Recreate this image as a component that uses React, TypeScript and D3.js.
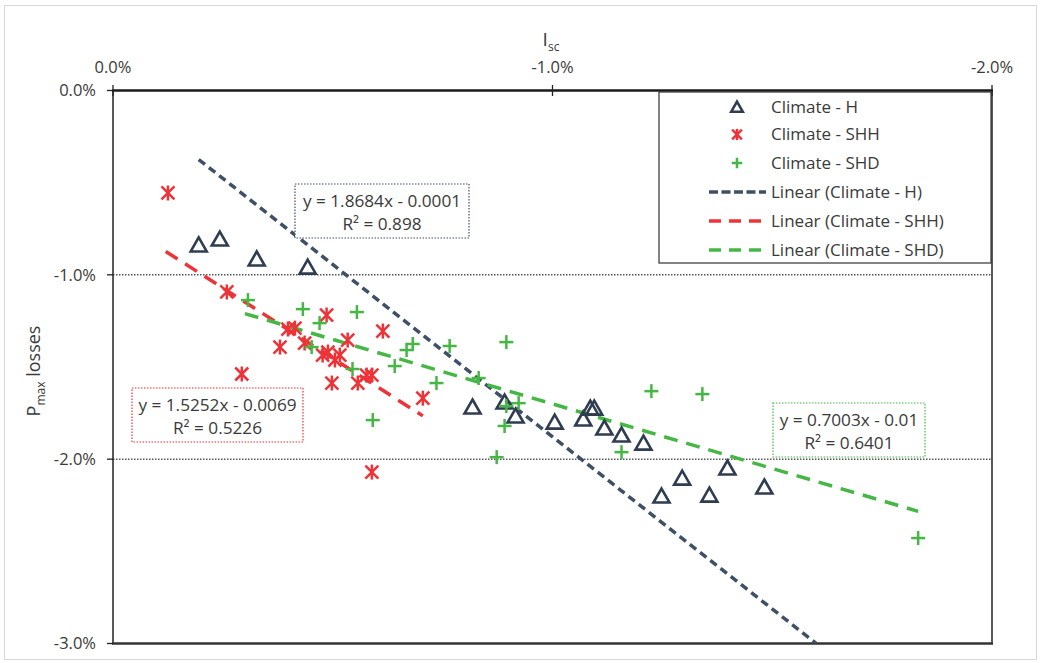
import React from "react";
import * as d3 from "d3";

// Data in percent units
const H_X = [-0.195, -0.243, -0.327, -0.443, -0.818, -0.891, -0.916, -1.005, -1.070, -1.086, -1.095, -1.118, -1.157, -1.207, -1.248, -1.295, -1.357, -1.398, -1.482];
const H_Y = [-0.838, -0.806, -0.914, -0.958, -1.717, -1.690, -1.766, -1.799, -1.782, -1.723, -1.723, -1.831, -1.869, -1.913, -2.200, -2.103, -2.195, -2.048, -2.151];

const SHH_X = [-0.125, -0.259, -0.293, -0.380, -0.398, -0.414, -0.436, -0.486, -0.477, -0.489, -0.505, -0.516, -0.534, -0.498, -0.557, -0.577, -0.589, -0.614, -0.705, -0.589];
const SHH_Y = [-0.556, -1.093, -1.538, -1.392, -1.294, -1.289, -1.370, -1.218, -1.435, -1.419, -1.462, -1.435, -1.354, -1.587, -1.587, -1.544, -1.544, -1.305, -1.669, -2.070];

const SHD_X = [-0.307, -0.432, -0.470, -0.555, -0.452, -0.545, -0.641, -0.668, -0.682, -0.766, -0.736, -0.591, -0.832, -0.895, -0.895, -0.923, -0.891, -0.873, -1.157, -1.225, -1.341, -1.832];
const SHD_Y = [-1.137, -1.186, -1.262, -1.202, -1.392, -1.511, -1.495, -1.408, -1.375, -1.386, -1.587, -1.788, -1.560, -1.365, -1.712, -1.696, -1.820, -1.989, -1.962, -1.631, -1.647, -2.428];

// Trend lines: slope, intercept (fraction units), x extent (percent)
const TRENDS = [
  { key: "H", slope: 1.8684, intercept: -0.0001, from: -0.195, to: -1.6, eq: "y = 1.8684x - 0.0001", r2: "R² = 0.898" },
  { key: "SHH", slope: 1.5252, intercept: -0.0069, from: -0.12, to: -0.705, eq: "y = 1.5252x - 0.0069", r2: "R² = 0.5226" },
  { key: "SHD", slope: 0.7003, intercept: -0.01, from: -0.3, to: -1.832, eq: "y = 0.7003x - 0.01", r2: "R² = 0.6401" },
];

const X_TICKS = [0, -1, -2];
const Y_TICKS = [0, -1, -2, -3];
const LEGEND = ["Climate - H", "Climate - SHH", "Climate - SHD", "Linear (Climate - H)", "Linear (Climate - SHH)", "Linear (Climate - SHD)"];

const C_H = "#2F3D50";
const C_HL = "#3F5066";
const C_R = "#EE3338";
const C_G = "#45B745";
const FONT = "'Open Sans', sans-serif";
const TXT = "#3a3a3a";

const x = d3.scaleLinear().domain([0, -2]).range([113, 992]);
const y = d3.scaleLinear().domain([0, -3]).range([90.5, 643.5]);

function Tri({ cx, cy, s = 1 }: { cx: number; cy: number; s?: number }) {
  return (
    <path
      d={`M${cx},${cy - 7.5 * s} L${cx + 8 * s},${cy + 6.5 * s} L${cx - 8 * s},${cy + 6.5 * s} Z`}
      fill="none"
      stroke={C_H}
      strokeWidth={2.6}
      strokeLinejoin="miter"
    />
  );
}
function Star({ cx, cy, s = 1 }: { cx: number; cy: number; s?: number }) {
  const a = 6.5 * s, b = 7.5 * s;
  return (
    <g stroke={C_R} strokeWidth={2.5}>
      <line x1={cx - a} y1={cy - a} x2={cx + a} y2={cy + a} />
      <line x1={cx - a} y1={cy + a} x2={cx + a} y2={cy - a} />
      <line x1={cx} y1={cy - b} x2={cx} y2={cy + b} />
    </g>
  );
}
function Plus({ cx, cy, s = 1 }: { cx: number; cy: number; s?: number }) {
  const a = 7 * s;
  return (
    <g stroke={C_G} strokeWidth={2.5}>
      <line x1={cx - a} y1={cy} x2={cx + a} y2={cy} />
      <line x1={cx} y1={cy - a} x2={cx} y2={cy + a} />
    </g>
  );
}

export default function App() {
  const trendColor: Record<string, string> = { H: C_HL, SHH: C_R, SHD: C_G };
  const trendDash: Record<string, string> = { H: "8 5", SHH: "14 9", SHD: "14 9" };
  const boxes = [
    { key: "H", x0: 295, y0: 184, x1: 469, y1: 238, color: "#3F5066" },
    { key: "SHH", x0: 132, y0: 388, x1: 303, y1: 442, color: C_R },
    { key: "SHD", x0: 773, y0: 403, x1: 925, y1: 457, color: C_G },
  ];
  const legendY = [107, 134.5, 163, 192, 221, 250];

  return (
    <svg width={1040} height={663} style={{ position: "absolute", left: 0, top: 0 }} fontFamily={FONT}>
      <rect x={0} y={0} width={1040} height={663} fill="#fff" />
      <rect x={4.5} y={5.5} width={1032} height={654} fill="#fff" stroke="#D9D9D9" strokeWidth={1} />

      <defs>
        <clipPath id="plotclip">
          <rect x={113} y={90.5} width={879} height={553} />
        </clipPath>
      </defs>

      {/* gridlines */}
      {[-1, -2].map((t) => (
        <line key={t} x1={113} x2={992} y1={y(t)} y2={y(t)} stroke="#000" strokeWidth={1} strokeDasharray="1.5 1.5" />
      ))}

      {/* plot frame */}
      <line x1={113} x2={113} y1={90.5} y2={643.5} stroke="#222" strokeWidth={1.5} />
      <line x1={992} x2={992} y1={90.5} y2={643.5} stroke="#222" strokeWidth={1.5} />
      <line x1={112} x2={993} y1={643.5} y2={643.5} stroke="#333" strokeWidth={2.5} />
      <line x1={112} x2={993} y1={90.5} y2={90.5} stroke="#1a1a1a" strokeWidth={2.5} />

      {/* ticks */}
      {Y_TICKS.map((t) => (
        <g key={t}>
          <line x1={107} x2={113} y1={y(t)} y2={y(t)} stroke="#222" strokeWidth={1.3} />
          <text x={96} y={y(t)} dy="0.35em" textAnchor="end" fontSize={16.5} fill={TXT}>
            {t.toFixed(1) + "%"}
          </text>
        </g>
      ))}
      {X_TICKS.map((t) => (
        <g key={t}>
          <line x1={x(t)} x2={x(t)} y1={85} y2={96} stroke="#222" strokeWidth={1.3} />
          <text x={x(t)} y={73} textAnchor="middle" fontSize={16.5} fill={TXT}>
            {t.toFixed(1) + "%"}
          </text>
        </g>
      ))}

      {/* axis titles */}
      <text x={551} y={46} textAnchor="middle" fontSize={19} fill={TXT}>
        I<tspan fontSize={12} dy={5}>sc</tspan>
      </text>
      <text transform="translate(40,371) rotate(-90)" textAnchor="middle" fontSize={18} fill={TXT}>
        P<tspan fontSize={12} dy={5}>max</tspan>
        <tspan dy={-5}> losses</tspan>
      </text>

      {/* trend lines */}
      <g clipPath="url(#plotclip)">
        {TRENDS.map((t) => {
          const f = (v: number) => t.slope * v + t.intercept * 100;
          return (
            <line
              key={t.key}
              x1={x(t.from)}
              y1={y(f(t.from))}
              x2={x(t.to)}
              y2={y(f(t.to))}
              stroke={trendColor[t.key]}
              strokeWidth={3.5}
              strokeDasharray={trendDash[t.key]}
            />
          );
        })}
      </g>

      {/* points */}
      {H_X.map((v, i) => <Tri key={"h" + i} cx={x(v)} cy={y(H_Y[i])} />)}
      {SHH_X.map((v, i) => <Star key={"r" + i} cx={x(v)} cy={y(SHH_Y[i])} />)}
      {SHD_X.map((v, i) => <Plus key={"g" + i} cx={x(v)} cy={y(SHD_Y[i])} />)}

      {/* equation boxes */}
      {boxes.map((b) => {
        const t = TRENDS.find((tt) => tt.key === b.key)!;
        const cx = (b.x0 + b.x1) / 2;
        return (
          <g key={b.key}>
            <rect x={b.x0} y={b.y0} width={b.x1 - b.x0} height={b.y1 - b.y0} fill="#fff" stroke={b.color} strokeWidth={1.2} strokeDasharray="1.5 1.5" />
            <text x={cx} y={b.y0 + 17} dy="0.35em" textAnchor="middle" fontSize={17.2} fill={TXT}>{t.eq}</text>
            <text x={cx} y={b.y0 + 40} dy="0.35em" textAnchor="middle" fontSize={17.2} fill={TXT}>{t.r2}</text>
          </g>
        );
      })}

      {/* legend */}
      <rect x={659} y={92} width={332} height={171} fill="#fff" stroke="#333" strokeWidth={1.2} />
      <Tri cx={737} cy={legendY[0]} s={0.72} />
      <Star cx={737} cy={legendY[1]} s={0.75} />
      <Plus cx={737} cy={legendY[2]} s={0.75} />
      <line x1={709} x2={766} y1={legendY[3]} y2={legendY[3]} stroke={C_HL} strokeWidth={3.5} strokeDasharray="9 3.5" />
      <line x1={709} x2={766} y1={legendY[4]} y2={legendY[4]} stroke={C_R} strokeWidth={3.5} strokeDasharray="12 8" />
      <line x1={709} x2={766} y1={legendY[5]} y2={legendY[5]} stroke={C_G} strokeWidth={3.5} strokeDasharray="12 8" />
      {LEGEND.map((l, i) => (
        <text key={l} x={771} y={legendY[i]} dy="0.35em" fontSize={17} fill={TXT}>{l}</text>
      ))}
    </svg>
  );
}
